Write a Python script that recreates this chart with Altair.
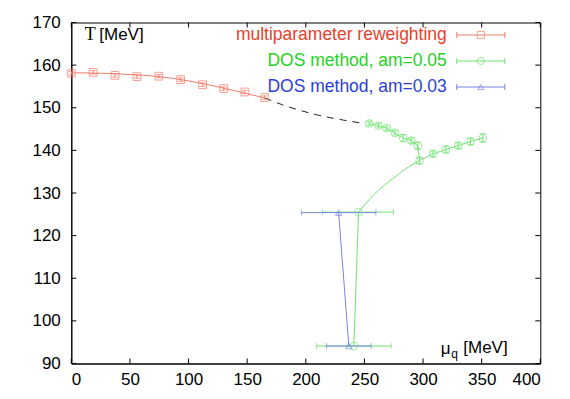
import altair as alt
import pandas as pd

# ---------------- data ----------------
# multiparameter reweighting (red squares)
red_mu = [0, 18.6, 37.3, 56, 74.7, 93.3, 112, 130, 148, 165]
red_T = [158.1, 158.3, 157.6, 157.3, 157.4, 156.6, 155.4, 154.5, 153.7, 152.4]
red_dT = [0.4, 0.4, 0.4, 0.4, 0.4, 0.4, 0.4, 0.4, 0.4, 0.4]

# fitted red curve and its dashed extrapolation
red_fit_mu = [0, 25, 50, 75, 100, 125, 150, 165]
red_fit_T = [158.2, 158.1, 157.8, 157.3, 156.3, 154.9, 153.3, 152.3]
dash_mu = [165, 180, 195, 210, 228, 250]
dash_T = [152.3, 150.7, 149.4, 148.3, 147.3, 146.3]

# DOS method, am=0.05 (green circles)
g_up_mu = [254, 262, 269, 276, 283, 290, 295.5]
g_up_T = [146.3, 145.8, 145.2, 144.1, 142.9, 142.3, 141.1]
g_up_dT = [0.5, 0.5, 0.5, 0.5, 0.8, 0.6, 0.8]
g_lo_mu = [297, 308.5, 319.5, 330, 340.5, 351]
g_lo_T = [137.6, 139.2, 140.2, 141.1, 142.1, 142.9]
g_lo_dT = [0.7, 0.7, 0.8, 0.7, 0.8, 1.0]
g_curve_mu = [245, 255, 263, 270, 280, 288, 297]
g_curve_T = [125.5, 128.7, 130.9, 132.5, 134.6, 136.2, 137.6]
g_x_mu = [241, 245]
g_x_T = [94.1, 125.5]
g_x_lo = [209.2, 214.3]
g_x_hi = [272.8, 274.6]

# DOS method, am=0.03 (blue triangles)
b_mu = [236.7, 228]
b_T = [94.1, 125.4]
b_lo = [217.7, 196.4]
b_hi = [255.8, 259.8]

x_ticks = [0, 50, 100, 150, 200, 250, 300, 350, 400]
y_ticks = [90, 100, 110, 120, 130, 140, 150, 160, 170]

legend_labels = ["multiparameter reweighting", "DOS method, am=0.05", "DOS method, am=0.03"]

# ---------------- styling ----------------
W, H = 469, 341
RED_T, GREEN_T, BLUE_T = "#e8412c", "#25d225", "#2b3fd8"
RED_L, GREEN_L, BLUE_L = "#f07a68", "#6fe46f", "#7585e6"
FONT = "Liberation Sans"

xs = alt.Scale(domain=[0, 400], nice=False, zero=False)
ys = alt.Scale(domain=[90, 170], nice=False, zero=False)


def X(f):
    return alt.X(f, type="quantitative", scale=xs, title=None,
                 axis=alt.Axis(values=x_ticks, labelPadding=8, format="d"))


def Y(f):
    return alt.Y(f, type="quantitative", scale=ys, title=None,
                 axis=alt.Axis(values=y_ticks, labelPadding=11, format="d"))


red_df = pd.DataFrame({"mu": red_mu, "T": red_T})
red_df["lo"] = red_df["T"] - pd.Series(red_dT)
red_df["hi"] = red_df["T"] + pd.Series(red_dT)

green_pts = pd.DataFrame({
    "mu": g_up_mu + g_lo_mu,
    "T": g_up_T + g_lo_T,
    "d": g_up_dT + g_lo_dT,
})
green_pts["lo"] = green_pts["T"] - green_pts["d"]
green_pts["hi"] = green_pts["T"] + green_pts["d"]

green_lines = pd.concat([
    pd.DataFrame({"mu": g_x_mu, "T": g_x_T, "p": "a"}),
    pd.DataFrame({"mu": g_up_mu + [g_lo_mu[0]], "T": g_up_T + [g_lo_T[0]], "p": "b"}),
    pd.DataFrame({"mu": g_lo_mu, "T": g_lo_T, "p": "c"}),
])
green_x = pd.DataFrame({"mu": g_x_mu, "T": g_x_T, "lo": g_x_lo, "hi": g_x_hi})
blue_df = pd.DataFrame({"mu": b_mu, "T": b_T, "lo": b_lo, "hi": b_hi})

layers = []

# red fit + dashed extrapolation
layers.append(alt.Chart(pd.DataFrame({"mu": red_fit_mu, "T": red_fit_T})).mark_line(
    color=RED_L, strokeWidth=1, interpolate="monotone").encode(x=X("mu"), y=Y("T")))
layers.append(alt.Chart(pd.DataFrame({"mu": dash_mu, "T": dash_T})).mark_line(
    color="#222222", strokeWidth=1, strokeDash=[7, 6], interpolate="monotone").encode(x=X("mu"), y=Y("T")))

# red error bars + markers
layers.append(alt.Chart(red_df).mark_rule(color=RED_L, strokeWidth=1).encode(
    x=X("mu"), y=Y("lo"), y2="hi"))
for col in ["lo", "hi"]:
    layers.append(alt.Chart(red_df).mark_tick(color=RED_L, orient="horizontal", size=6, thickness=1).encode(
        x=X("mu"), y=Y(col)))
layers.append(alt.Chart(red_df).mark_point(shape="square", filled=False, color=RED_L, size=60, strokeWidth=1).encode(
    x=X("mu"), y=Y("T")))

# green lines
layers.append(alt.Chart(green_lines).mark_line(color=GREEN_L, strokeWidth=1).encode(
    x=X("mu"), y=Y("T"), detail="p:N"))
layers.append(alt.Chart(pd.DataFrame({"mu": g_curve_mu, "T": g_curve_T})).mark_line(
    color=GREEN_L, strokeWidth=1, interpolate="monotone").encode(x=X("mu"), y=Y("T")))

# green error bars
layers.append(alt.Chart(green_pts).mark_rule(color=GREEN_L, strokeWidth=1).encode(
    x=X("mu"), y=Y("lo"), y2="hi"))
for col in ["lo", "hi"]:
    layers.append(alt.Chart(green_pts).mark_tick(color=GREEN_L, orient="horizontal", size=6, thickness=1).encode(
        x=X("mu"), y=Y(col)))
layers.append(alt.Chart(green_x).mark_rule(color=GREEN_L, strokeWidth=1).encode(
    x=X("lo"), x2="hi", y=Y("T")))
for col in ["lo", "hi"]:
    layers.append(alt.Chart(green_x).mark_tick(color=GREEN_L, orient="vertical", size=6, thickness=1).encode(
        x=X(col), y=Y("T")))

# blue
layers.append(alt.Chart(blue_df).mark_line(color=BLUE_L, strokeWidth=1).encode(
    x=X("mu"), y=Y("T"), order="T:Q"))
layers.append(alt.Chart(blue_df).mark_rule(color=BLUE_L, strokeWidth=1).encode(
    x=X("lo"), x2="hi", y=Y("T")))
for col in ["lo", "hi"]:
    layers.append(alt.Chart(blue_df).mark_tick(color=BLUE_L, orient="vertical", size=6, thickness=1).encode(
        x=X(col), y=Y("T")))

# markers on top
layers.append(alt.Chart(green_pts).mark_point(shape="circle", filled=False, color=GREEN_L, size=60, strokeWidth=1).encode(
    x=X("mu"), y=Y("T")))
layers.append(alt.Chart(green_x).mark_point(shape="circle", filled=False, color=GREEN_L, size=60, strokeWidth=1).encode(
    x=X("mu"), y=Y("T")))
layers.append(alt.Chart(blue_df).mark_point(shape="triangle-up", filled=False, color=BLUE_L, size=40, strokeWidth=1).encode(
    x=X("mu"), y=Y("T")))

# inward ticks on all four sides
xt = pd.DataFrame({"v": x_ticks})
yt = pd.DataFrame({"v": y_ticks})
layers.append(alt.Chart(xt).mark_rule(color="black", strokeWidth=1).encode(
    x=X("v"), y=alt.value(H), y2=alt.value(H - 5)))
layers.append(alt.Chart(xt).mark_rule(color="black", strokeWidth=1).encode(
    x=X("v"), y=alt.value(0), y2=alt.value(5)))
layers.append(alt.Chart(yt).mark_rule(color="black", strokeWidth=1).encode(
    y=Y("v"), x=alt.value(0), x2=alt.value(5)))
layers.append(alt.Chart(yt).mark_rule(color="black", strokeWidth=1).encode(
    y=Y("v"), x=alt.value(W - 5), x2=alt.value(W)))

# legend (gnuplot style, inside top-right)
one = pd.DataFrame({"a": [0]})
leg_text = [RED_T, GREEN_T, BLUE_T]
leg_line = [RED_L, GREEN_L, BLUE_L]
leg_shape = ["square", "circle", "triangle-up"]
leg_size = [50, 50, 35]
x0, x1, xm = 385.5, 433.5, 409.5
for i, lab in enumerate(legend_labels):
    yy = 12.5 + 26 * i
    layers.append(alt.Chart(pd.DataFrame({"t": [lab]})).mark_text(
        align="right", baseline="middle", font=FONT, fontSize=17.5, color=leg_text[i]).encode(
        x=alt.value(375.5), y=alt.value(yy), text="t:N"))
    layers.append(alt.Chart(one).mark_rule(color=leg_line[i], strokeWidth=1).encode(
        x=alt.value(x0), x2=alt.value(x1), y=alt.value(yy)))
    for xc in (x0, x1):
        layers.append(alt.Chart(one).mark_rule(color=leg_line[i], strokeWidth=1).encode(
            x=alt.value(xc), y=alt.value(yy - 3), y2=alt.value(yy + 3)))
    layers.append(alt.Chart(one).mark_point(shape=leg_shape[i], filled=False, color=leg_line[i],
                                            size=leg_size[i], strokeWidth=1).encode(
        x=alt.value(xm), y=alt.value(yy)))

# axis labels inside the frame
layers.append(alt.Chart(pd.DataFrame({"t": ["T"]})).mark_text(
    align="left", baseline="middle", font="Liberation Serif", fontSize=18, color="black").encode(
    x=alt.value(13.5), y=alt.value(12.5), text="t:N"))
layers.append(alt.Chart(pd.DataFrame({"t": ["[MeV]"]})).mark_text(
    align="left", baseline="middle", font=FONT, fontSize=17, color="black").encode(
    x=alt.value(28), y=alt.value(12.5), text="t:N"))
layers.append(alt.Chart(pd.DataFrame({"t": ["\u03bc"]})).mark_text(
    align="left", baseline="middle", font=FONT, fontSize=17, color="black").encode(
    x=alt.value(369.5), y=alt.value(327), text="t:N"))
layers.append(alt.Chart(pd.DataFrame({"t": ["q"]})).mark_text(
    align="left", baseline="middle", font=FONT, fontSize=12, color="black").encode(
    x=alt.value(380), y=alt.value(332), text="t:N"))
layers.append(alt.Chart(pd.DataFrame({"t": ["[MeV]"]})).mark_text(
    align="left", baseline="middle", font=FONT, fontSize=17, color="black").encode(
    x=alt.value(392), y=alt.value(326), text="t:N"))

chart = alt.layer(*layers).properties(
    width=W, height=H,
    autosize=alt.AutoSizeParams(type="none"),
    padding={"left": 63.3, "top": 14.5, "right": 21, "bottom": 27},
).configure_view(
    stroke="black", strokeWidth=1
).configure_axis(
    labelFont=FONT, labelFontSize=17, labelColor="black",
    ticks=False, grid=False, domainColor="black", domainWidth=1,
)

chart.save("out.html", embed_options={"renderer": "svg", "actions": False})
